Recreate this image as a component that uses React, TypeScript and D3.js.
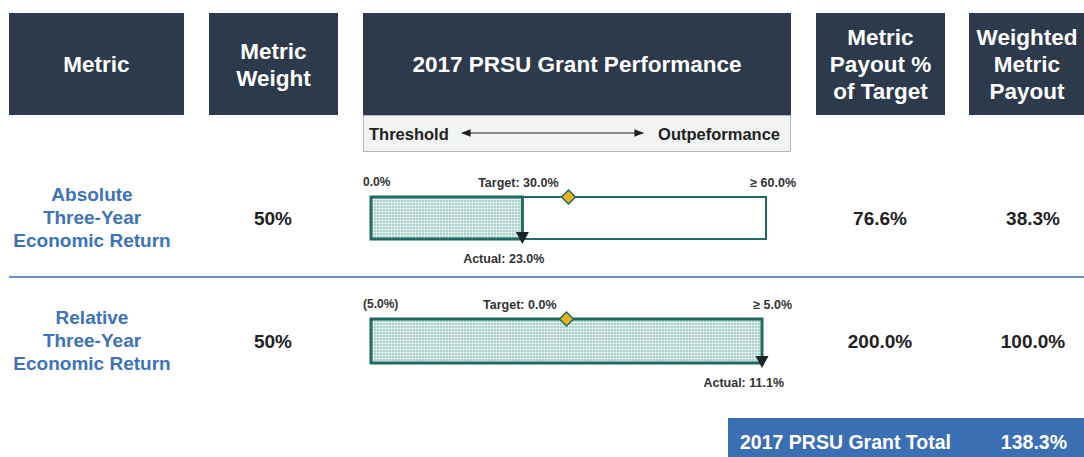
import React from 'react';
import * as d3 from 'd3';

// header columns
const headerLabels = [['Metric'], ['Metric', 'Weight'], ['2017 PRSU Grant Performance'], ['Metric', 'Payout %', 'of Target'], ['Weighted', 'Metric', 'Payout']];
const headerX0 = [9, 209, 363, 816, 969];
const headerX1 = [184, 338, 791, 945, 1090];

// rows
const metricNames = [
  ['Absolute', 'Three-Year', 'Economic Return'],
  ['Relative', 'Three-Year', 'Economic Return'],
];
const weights = ['50%', '50%'];
const minVals = [0, -5];
const maxVals = [60, 5];
const targets = [30, 0];
const actuals = [23.0, 11.1];
const minLabels = ['0.0%', '(5.0%)'];
const maxLabels = ['≥ 60.0%', '≥ 5.0%'];
const targetLabels = ['Target: 30.0%', 'Target: 0.0%'];
const actualLabels = ['Actual: 23.0%', 'Actual: 11.1%'];
const payoutPct = ['76.6%', '200.0%'];
const weightedPayout = ['38.3%', '100.0%'];
const totalLabel = '2017 PRSU Grant Total';
const totalValue = '138.3%';

const rowY = [218, 341];
const barRight = [766, 762];
const barH = [42, 44];

const dark = '#2d3a4b';
const teal = '#1f6b64';
const blue = '#3d74b9';
const font = '"Liberation Sans", Arial, Helvetica, sans-serif';

export default function App() {
  const W = 1084;
  const H = 457;

  return (
    <svg width={W} height={H} style={{ position: 'absolute', left: 0, top: 0, background: '#fff' }} fontFamily={font} fontWeight="bold">
      <defs>
        <pattern id="dots" width="3" height="3" patternUnits="userSpaceOnUse">
          <rect width="3" height="3" fill="#a6cfc9" />
          <circle cx="1.5" cy="1.5" r="1.1" fill="#ffffff" />
        </pattern>
        <marker id="arrowEnd" viewBox="0 0 10 10" refX="9" refY="5" markerWidth="8" markerHeight="8" orient="auto">
          <path d="M0,1 L10,5 L0,9 z" fill="#222" />
        </marker>
        <marker id="arrowStart" viewBox="0 0 10 10" refX="1" refY="5" markerWidth="8" markerHeight="8" orient="auto">
          <path d="M10,1 L0,5 L10,9 z" fill="#222" />
        </marker>
      </defs>

      {/* header boxes */}
      {headerLabels.map((lines, i) => {
        const cx = (headerX0[i] + headerX1[i]) / 2;
        const cxText = i === 4 ? 1027 : cx;
        const cy = 64;
        const lh = 27;
        const start = cy - ((lines.length - 1) * lh) / 2;
        return (
          <g key={i}>
            <rect x={headerX0[i]} y={13} width={headerX1[i] - headerX0[i]} height={102} fill={dark} />
            {lines.map((l, j) => (
              <text key={j} x={cxText} y={start + j * lh} dy="0.36em" textAnchor="middle" fill="#fff" fontSize={22.5}>
                {l}
              </text>
            ))}
          </g>
        );
      })}

      {/* threshold bar */}
      <rect x={363.5} y={115.5} width={427} height={36} fill="#f2f3f3" stroke="#b5b7b9" strokeWidth={1} />
      <text x={369} y={134} dy="0.36em" fontSize={16.5} fill="#222">Threshold</text>
      <line x1={462} x2={643} y1={133} y2={133} stroke="#222" strokeWidth={1.2} markerStart="url(#arrowStart)" markerEnd="url(#arrowEnd)" />
      <text x={780} y={134} dy="0.36em" fontSize={16.5} fill="#222" textAnchor="end">Outpeformance</text>

      {/* separator */}
      <line x1={9} x2={1084} y1={277} y2={277} stroke="#6890c8" strokeWidth={2} />

      {metricNames.map((lines, i) => {
        const x = d3.scaleLinear().domain([minVals[i], maxVals[i]]).range([371, barRight[i]]).clamp(true);
        const cy = rowY[i];
        const top = cy - barH[i] / 2;
        const bottom = cy + barH[i] / 2;
        const xa = x(actuals[i]);
        const xt = x(targets[i]);
        const x0 = x(minVals[i]);
        const x1 = x(maxVals[i]);
        const ds = 7;
        return (
          <g key={i}>
            {lines.map((l, j) => (
              <text key={j} x={92} y={cy - 24 + j * 23} dy="0.36em" textAnchor="middle" fill={blue} fontSize={19}>
                {l}
              </text>
            ))}
            <text x={273} y={cy} dy="0.36em" textAnchor="middle" fill="#222" fontSize={19}>{weights[i]}</text>
            <text x={880} y={cy} dy="0.36em" textAnchor="middle" fill="#222" fontSize={19}>{payoutPct[i]}</text>
            <text x={1033} y={cy} dy="0.36em" textAnchor="middle" fill="#222" fontSize={19}>{weightedPayout[i]}</text>

            {/* bullet outline */}
            <rect x={x0} y={top} width={x1 - x0} height={bottom - top} fill="#fff" stroke={teal} strokeWidth={2} />
            <rect x={x0} y={top} width={xa - x0} height={bottom - top} fill="url(#dots)" stroke={teal} strokeWidth={3} />

            {/* target diamond */}
            <path d={`M${xt},${top - ds} L${xt + ds},${top} L${xt},${top + ds} L${xt - ds},${top} Z`} fill="#e9b21f" stroke={teal} strokeWidth={1.5} />
            {/* actual marker */}
            <path d={`M${xa - 6.5},${bottom - 7} L${xa + 6.5},${bottom - 7} L${xa},${bottom + 5} Z`} fill="#17262a" />

            <text x={x0 - 8} y={top - 15} dy="0.36em" fontSize={12} fill="#333">{minLabels[i]}</text>
            <text x={xt - 10} y={top - 15} dy="0.36em" fontSize={12.5} fill="#333" textAnchor="end">{targetLabels[i]}</text>
            <text x={x1 + 30} y={top - 15} dy="0.36em" fontSize={12.5} fill="#333" textAnchor="end">{maxLabels[i]}</text>
            <text x={xa + 22} y={bottom + 19} dy="0.36em" fontSize={12.5} fill="#333" textAnchor="end">{actualLabels[i]}</text>
          </g>
        );
      })}

      {/* total */}
      <rect x={728} y={418} width={360} height={45} fill="#3b6fb3" />
      <text x={740} y={442} dy="0.36em" fill="#fff" fontSize={19.5}>{totalLabel}</text>
      <text x={1067} y={442} dy="0.36em" fill="#fff" fontSize={19.5} textAnchor="end">{totalValue}</text>
    </svg>
  );
}
